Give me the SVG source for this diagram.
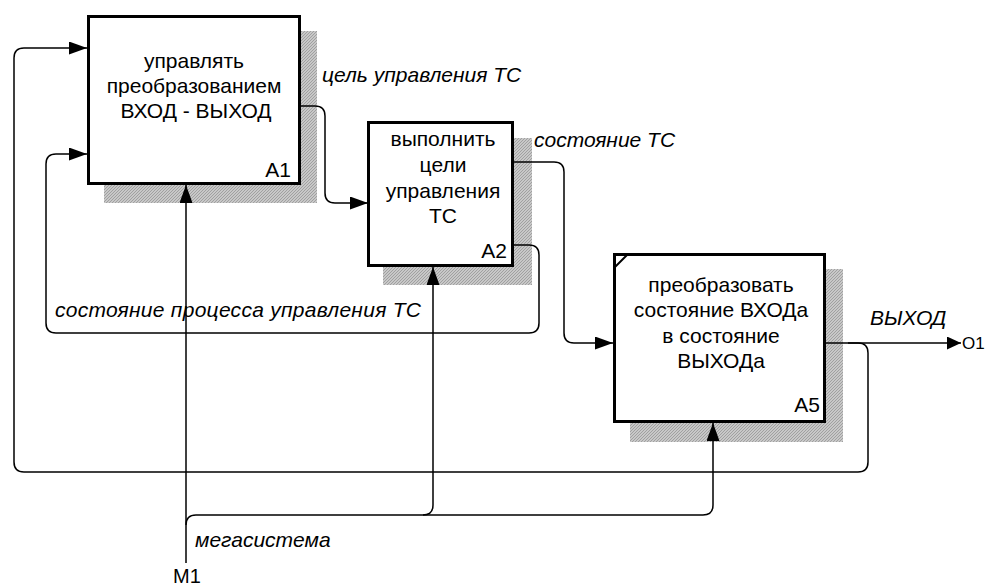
<svg xmlns="http://www.w3.org/2000/svg" width="987" height="588" viewBox="0 0 987 588">
<defs>
<style>
.box{fill:#fff;stroke:#000;stroke-width:3}
.shadow{fill:url(#hatch)}
.t{font-family:"Liberation Sans",Arial,sans-serif;font-size:21px;fill:#000}
.c{text-anchor:middle}
.e{text-anchor:end}
.i{font-style:italic}
.conn{fill:none;stroke:#000;stroke-width:1.5}
.arr{marker-end:url(#arr)}
</style>
<pattern id="hatch" width="3" height="3" patternUnits="userSpaceOnUse">
<rect width="3" height="3" fill="#c8c8c8"/>
<path d="M0 3 L3 0" stroke="#a0a0a0" stroke-width="1"/>
</pattern>
<marker id="arr" viewBox="0 0 18 13" refX="18" refY="6.5" markerWidth="18" markerHeight="13" markerUnits="userSpaceOnUse" orient="auto">
<path d="M0 0 L18 6.5 L0 13 Z" fill="#000"/>
</marker>
<marker id="arrS" viewBox="0 0 14 13" refX="14" refY="6.5" markerWidth="14" markerHeight="13" markerUnits="userSpaceOnUse" orient="auto">
<path d="M0 0 L14 6.5 L0 13 Z" fill="#000"/>
</marker>
</defs>
<rect width="987" height="588" fill="#fff"/>

<g id="A1">
<rect class="shadow" x="104" y="31" width="213" height="172"/>
<rect class="box" x="88.5" y="16.5" width="211" height="167"/>
<text class="t c" x="194" y="68">управлять</text>
<text class="t c" x="194" y="93">преобразованием</text>
<text class="t c" x="196" y="118">ВХОД - ВЫХОД</text>
<text class="t e" x="291" y="177">A1</text>
</g>

<g id="A2">
<rect class="shadow" x="383" y="138" width="149" height="147"/>
<rect class="box" x="368.5" y="122.5" width="144" height="143"/>
<text class="t c" x="443" y="146">выполнить</text>
<text class="t c" x="443" y="172">цели</text>
<text class="t c" x="443" y="198">управления</text>
<text class="t c" x="443" y="223">ТС</text>
<text class="t e" x="507" y="258">A2</text>
</g>

<g id="A5">
<rect class="shadow" x="630" y="269" width="213" height="173"/>
<rect class="box" x="614.5" y="254.5" width="210" height="167"/>
<line x1="615" y1="267" x2="628" y2="254" stroke="#000" stroke-width="2"/>
<text class="t c" x="721" y="292">преобразовать</text>
<text class="t c" x="721" y="317">состояние ВХОДа</text>
<text class="t c" x="721" y="343">в состояние</text>
<text class="t c" x="721" y="368">ВЫХОДа</text>
<text class="t e" x="820" y="412">A5</text>
</g>

<g id="connectors">
<path class="conn arr" d="M301,106 H315 Q325,106 325,116 V193 Q325,203 335,203 H368"/>
<path class="conn arr" d="M514,162 H554 Q564,162 564,172 V333 Q564,343 574,343 H613"/>
<path class="conn arr" d="M514,245 H529 Q539,245 539,255 V323 Q539,333 529,333 H56 Q46,333 46,323 V164 Q46,154 56,154 H87"/>
<path class="conn" d="M826,343 H961" marker-end="url(#arrS)"/>
<path class="conn arr" d="M848,343 H858 Q868,343 868,353 V462 Q868,472 858,472 H24 Q14,472 14,462 V58 Q14,48 24,48 H87"/>
<path class="conn arr" d="M186,563 V185"/>
<path class="conn arr" d="M186,525 Q186,515 196,515 H703 Q713,515 713,505 V423"/>
<path class="conn arr" d="M423,515 Q433,515 433,505 V267"/>
</g>

<g id="labels">
<text class="t i" x="322" y="82">цель управления ТС</text>
<text class="t i" x="534" y="147">состояние ТС</text>
<text class="t i" x="55" y="317" textLength="366" lengthAdjust="spacing">состояние процесса управления ТС</text>
<text class="t i" x="870" y="325">ВЫХОД</text>
<text class="t" x="962" y="349" style="font-size:17px">O1</text>
<text class="t i" x="195" y="547">мегасистема</text>
<text class="t" x="173" y="583" style="font-size:20px">M1</text>
</g>
</svg>
